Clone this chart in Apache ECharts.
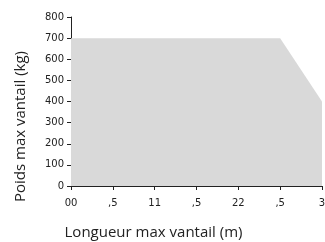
<!DOCTYPE html>
<html>
<head>
<meta charset="utf-8">
<script src="https://cdn.jsdelivr.net/npm/echarts@6/dist/echarts.min.js"></script>
<style>
  html, body { margin: 0; padding: 0; background: #fff; }
  #chart { width: 325px; height: 242px; }
</style>
</head>
<body>
<div id="chart"></div>
<script>
// longueur (m) -> poids max (kg)
const lengths = [0, 2.5, 3]
const weights = [700, 700, 400]
// x tick labels as printed on the original
const xTickLabels = ['00', ',5', '11', ',5', '22', ',5', '3']

const chart = echarts.init(document.getElementById('chart'))

const option = {
  animation: false,
  grid: {
    left: 71,
    right: 3,
    top: 17,
    bottom: 56,
    outerBoundsMode: 'none'
  },
  xAxis: {
    type: 'value',
    min: 0,
    max: 3,
    interval: 0.5,
    name: 'Longueur max vantail (m)',
    nameLocation: 'middle',
    nameGap: 39,
    nameTextStyle: {
      color: '#222',
      fontSize: 15,
      fontFamily: 'Open Sans',
      padding: [0, 86, 0, 0]
    },
    axisLine: { lineStyle: { color: '#222' } },
    axisTick: { show: true, length: 4, lineStyle: { color: '#222' } },
    axisLabel: {
      color: '#222',
      fontSize: 10,
      fontFamily: 'DejaVu Sans',
      margin: 12,
      formatter: (v) => xTickLabels[Math.round(v / 0.5)]
    },
    splitLine: { show: false }
  },
  yAxis: {
    type: 'value',
    min: 0,
    max: 800,
    interval: 100,
    name: 'Poids max vantail (kg)',
    nameLocation: 'middle',
    nameGap: 43,
    nameTextStyle: {
      color: '#222',
      fontSize: 15,
      fontFamily: 'Open Sans',
      padding: [0, 50, 0, 0]
    },
    axisLine: { show: true, lineStyle: { color: '#222' } },
    axisTick: { show: true, length: 4, lineStyle: { color: '#222' } },
    axisLabel: { color: '#222', fontSize: 10, fontFamily: 'DejaVu Sans', margin: 7 },
    splitLine: { show: false }
  },
  series: [
    {
      type: 'line',
      data: lengths.map((x, i) => [x, weights[i]]),
      symbol: 'none',
      lineStyle: { width: 0 },
      areaStyle: { color: '#d9d9d9', opacity: 1 },
      z: 1
    }
  ]
}

chart.setOption(option)
</script>
</body>
</html>
